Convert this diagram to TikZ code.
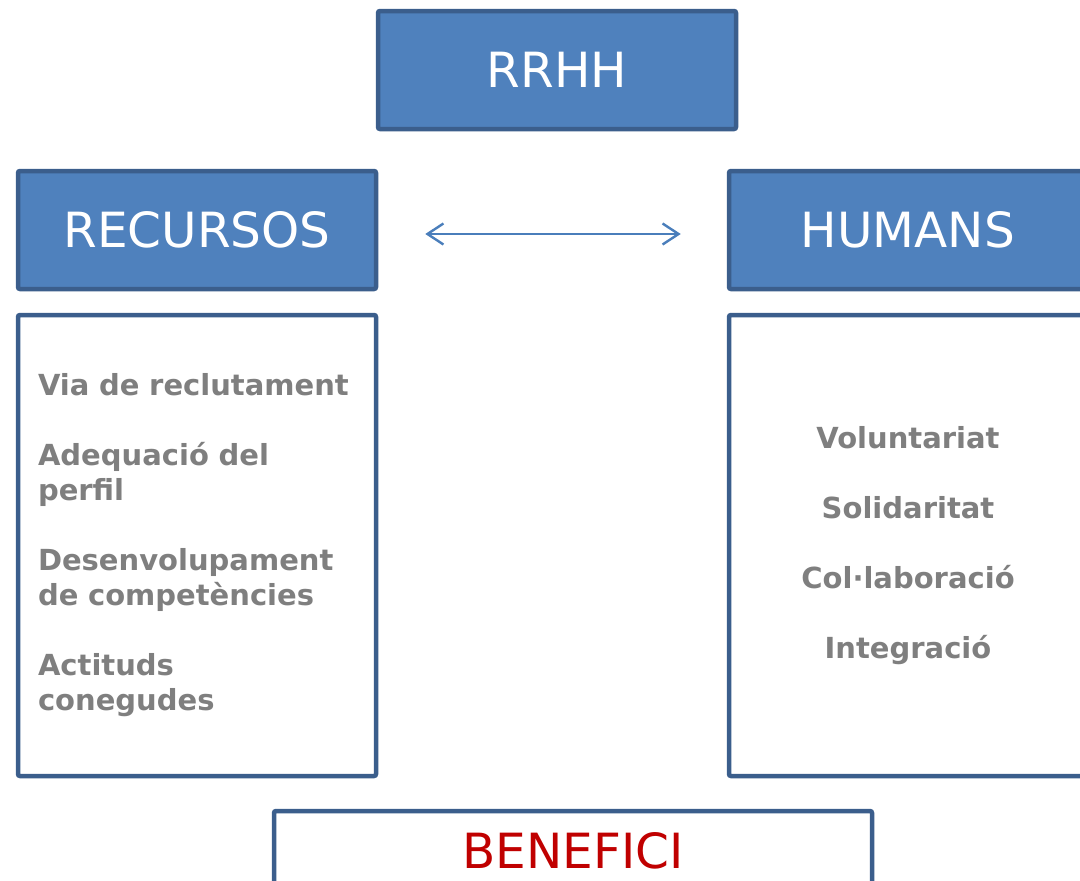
\documentclass[tikz,border=0pt]{standalone}
\usepackage{fontspec}
\setmainfont{DejaVu Sans}
\usepackage{tikz}
\usetikzlibrary{arrows.meta}
\definecolor{boxblue}{HTML}{4F81BD}
\definecolor{boxline}{HTML}{3B5E8C}
\definecolor{arrowblue}{HTML}{4A7EBB}
\definecolor{itemgray}{HTML}{7F7F7F}
\definecolor{benred}{HTML}{C00000}
\tikzstyle{head} = [rectangle, rounded corners=2pt, minimum width=358pt, minimum height=118pt, text centered, draw=boxline, line width=4.5pt, fill=boxblue, text=white, font=\fontsize{48.5pt}{58pt}\selectfont]
\tikzstyle{list} = [rectangle, rounded corners=2pt, minimum width=358pt, minimum height=461pt, draw=boxline, line width=4.5pt, fill=white, text=itemgray, inner xsep=20pt, text width=318pt, font=\bfseries\fontsize{29pt}{35pt}\selectfont]
\tikzstyle{result} = [rectangle, rounded corners=2pt, minimum width=598pt, minimum height=80pt, text centered, draw=boxline, line width=4.5pt, fill=white, text=benred, font=\fontsize{48.5pt}{58pt}\selectfont]
\tikzstyle{arrow} = [line width=2.4pt, draw=arrowblue, {Straight Barb[length=16pt,width=21pt]}-{Straight Barb[length=16pt,width=21pt]}]

\begin{document}
\begin{tikzpicture}[node distance=160pt]
\useasboundingbox (0,0) rectangle (1080pt,-881pt);
\clip (0,0) rectangle (1080pt,-881pt);

\node(rrhh)[head] at (557pt,-70pt) {RRHH};
\node(recursos)[head, below of=rrhh, xshift=-360pt]{RECURSOS};
\node(humans)[head, below of=rrhh, xshift=351pt]{HUMANS};
\node(llistar)[list, below of=recursos, yshift=-155.5pt, align=left]{%
Via de reclutament\\[35pt]
Adequació del\\perfil\\[35pt]
Desenvolupament\\de competències\\[35pt]
Actituds\\conegudes};
\node(llistah)[list, below of=humans, yshift=-155.5pt, align=center]{%
Voluntariat\\[35pt]
Solidaritat\\[35pt]
Col·laboració\\[35pt]
Integració};
\node(benefici)[result] at (573pt,-851pt) {BENEFICI};

\draw [arrow, shorten <=47pt, shorten >=46pt] ([yshift=-4pt]recursos.east) -- ([yshift=-4pt]humans.west);
\end{tikzpicture}
\end{document}
